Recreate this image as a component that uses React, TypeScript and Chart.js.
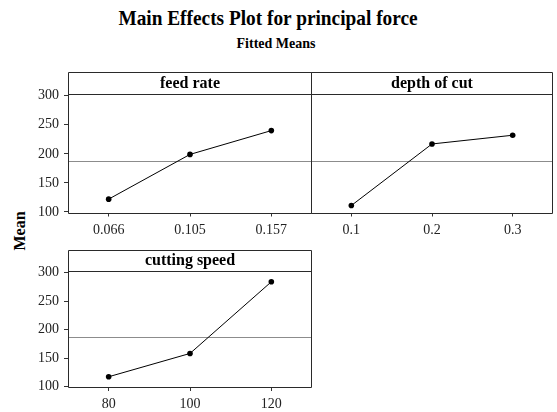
import { useEffect, useRef } from 'react';
import { Chart, registerables } from 'chart.js';

Chart.register(...registerables);

const FEED_RATE_LEVELS = ['0.066', '0.105', '0.157'];
const FEED_RATE_MEANS = [122, 199, 240];
const DEPTH_LEVELS = ['0.1', '0.2', '0.3'];
const DEPTH_MEANS = [111, 217, 232];
const SPEED_LEVELS = ['80', '100', '120'];
const SPEED_MEANS = [117, 158, 284];
const GRAND_MEAN = 187;
const Y_TICKS = [100, 150, 200, 250, 300];
const Y_MIN = 99;
const Y_MAX = 303;

const W = 557;
const H = 412;
const SERIF = '"Liberation Serif", "Times New Roman", serif';

const framePlugin = {
  id: 'panelFrame',
  beforeDatasetsDraw(chart: any, _args: any, opts: any) {
    const { ctx, chartArea: a, scales } = chart;
    const y = Math.round(scales.y.getPixelForValue(opts.mean)) + 0.5;
    ctx.save();
    ctx.strokeStyle = '#8c8c8c';
    ctx.lineWidth = 1;
    ctx.beginPath();
    ctx.moveTo(a.left, y);
    ctx.lineTo(a.right, y);
    ctx.stroke();
    ctx.restore();
  },
  afterDraw(chart: any, _args: any, opts: any) {
    const { ctx, chartArea: a } = chart;
    const l = Math.round(a.left) + 0.5;
    const r = Math.round(a.right) - 0.5;
    const t = Math.round(a.top) + 0.5;
    const b = Math.round(a.bottom) + 0.5;
    const st = Math.round(a.top - opts.stripHeight) + 0.5;
    ctx.save();
    ctx.strokeStyle = '#2a2a2a';
    ctx.lineWidth = 1;
    ctx.beginPath();
    ctx.moveTo(l, st);
    ctx.lineTo(r, st);
    ctx.lineTo(r, b);
    ctx.lineTo(l, b);
    ctx.closePath();
    ctx.moveTo(l, t);
    ctx.lineTo(r, t);
    ctx.stroke();
    ctx.fillStyle = '#000';
    ctx.font = 'bold 16px ' + SERIF;
    ctx.textAlign = 'center';
    ctx.textBaseline = 'middle';
    ctx.fillText(opts.label, (a.left + a.right) / 2, a.top - opts.stripHeight / 2 + 0.5);
    ctx.restore();
  },
};

type PanelProps = {
  labels: string[];
  values: number[];
  title: string;
  left: number;
  right: number;
  top: number;
  bottom: number;
  strip: number;
  showY: boolean;
};

function Panel(p: PanelProps) {
  const ref = useRef<HTMLCanvasElement>(null);
  useEffect(() => {
    if (!ref.current) return;
    const tickFont = { family: SERIF, size: 14 };
    const yWidth = p.showY ? 68 : 0;
    const xHeight = 25;
    const chart = new Chart(ref.current, {
      type: 'line',
      data: {
        labels: p.labels,
        datasets: [
          {
            data: p.values,
            borderColor: '#000',
            borderWidth: 1,
            pointRadius: 2.8,
            pointBackgroundColor: '#000',
            pointBorderColor: '#000',
            pointBorderWidth: 0,
            tension: 0,
          },
        ],
      },
      plugins: [framePlugin as any],
      options: {
        animation: false,
        responsive: false,
        maintainAspectRatio: false,
        layout: {
          padding: {
            left: p.left - yWidth,
            right: W - p.right,
            top: p.top,
            bottom: Math.max(0, H - p.bottom - xHeight),
          },
        },
        plugins: {
          legend: { display: false },
          tooltip: { enabled: false },
          title: { display: false },
          panelFrame: { mean: GRAND_MEAN, label: p.title, stripHeight: p.strip },
        } as any,
        scales: {
          x: {
            type: 'category',
            offset: true,
            grid: {
              display: true,
              drawOnChartArea: false,
              drawTicks: true,
              tickLength: 4,
              color: '#333',
              offset: false,
            },
            border: { display: false },
            ticks: {
              font: tickFont,
              color: '#222',
              padding: 5,
              maxRotation: 0,
              autoSkip: false,
            },
            afterFit(s: any) {
              s.height = xHeight;
            },
          },
          y: {
            display: p.showY,
            min: Y_MIN,
            max: Y_MAX,
            afterBuildTicks(s: any) {
              s.ticks = Y_TICKS.map((v) => ({ value: v }));
            },
            grid: {
              drawOnChartArea: false,
              drawTicks: true,
              tickLength: 4,
              color: '#333',
            },
            border: { display: false },
            ticks: { font: tickFont, color: '#222', padding: 5 },
            afterFit(s: any) {
              s.width = yWidth;
            },
          },
        } as any,
      },
    });
    return () => chart.destroy();
  }, []);
  return (
    <canvas
      ref={ref}
      width={W}
      height={H}
      style={{ position: 'absolute', left: 0, top: 0 }}
    />
  );
}

export default function App() {
  useEffect(() => {
    document.body.style.margin = '0';
  }, []);
  return (
    <div style={{ position: 'relative', width: W, height: H, background: '#fff', overflow: 'hidden', fontFamily: SERIF }}>
      <div
        style={{
          position: 'absolute',
          top: 18,
          left: 268,
          transform: 'translate(-50%, -50%) scaleX(0.92)',
          whiteSpace: 'nowrap',
          fontWeight: 'bold',
          fontSize: 21,
          lineHeight: '24px',
          color: '#000',
        }}
      >
        Main Effects Plot for principal force
      </div>
      <div
        style={{
          position: 'absolute',
          top: 44,
          left: 276,
          transform: 'translate(-50%, -50%)',
          whiteSpace: 'nowrap',
          fontWeight: 'bold',
          fontSize: 14,
          lineHeight: '16px',
          color: '#000',
        }}
      >
        Fitted Means
      </div>
      <div
        style={{
          position: 'absolute',
          left: 20,
          top: 231,
          transform: 'translate(-50%, -50%) rotate(-90deg)',
          fontWeight: 'bold',
          fontSize: 16,
          lineHeight: '16px',
          whiteSpace: 'nowrap',
          color: '#000',
        }}
      >
        Mean
      </div>
      <Panel labels={FEED_RATE_LEVELS} values={FEED_RATE_MEANS} title="feed rate" left={68} right={312} top={94} bottom={212.5} strip={22} showY={true} />
      <Panel labels={DEPTH_LEVELS} values={DEPTH_MEANS} title="depth of cut" left={311} right={555} top={94} bottom={212.5} strip={22} showY={false} />
      <Panel labels={SPEED_LEVELS} values={SPEED_MEANS} title="cutting speed" left={68} right={312} top={271} bottom={387} strip={21} showY={true} />
    </div>
  );
}
